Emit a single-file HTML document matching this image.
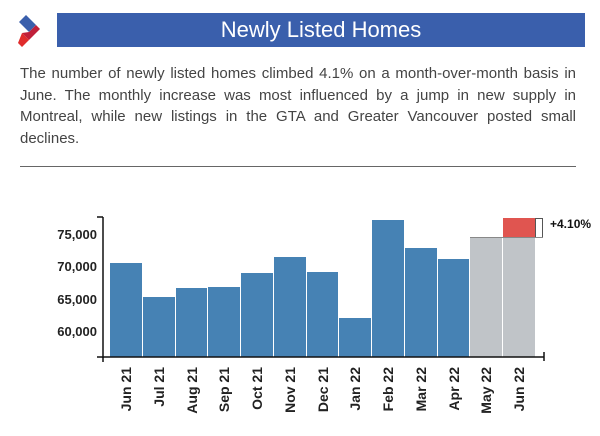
<!DOCTYPE html>
<html><head><style>
body{margin:0;width:600px;height:436px;background:#fff;overflow:hidden;position:relative;font-family:"Liberation Sans",sans-serif}
.bar{position:absolute;left:57px;top:13px;width:528px;height:34px;background:#3a5fac;color:#fff;font-size:22px;text-align:center;line-height:34px}
.p{position:absolute;left:20px;top:63px;width:556px;font-size:15px;line-height:21.5px;color:#444}
.p div{text-align:justify;text-align-last:justify;white-space:nowrap}
.p div.l{text-align-last:left}
.hr{position:absolute;left:20px;top:166px;width:556px;height:1px;background:#666}
</style></head><body>
<svg style="position:absolute;left:0;top:0" width="60" height="60">
<polygon points="26,15 36,25 29,32 19,22" fill="#3a5fac"/>
<polygon points="36,25 40,29 29,40 22,33 29,32" fill="#c0203a"/>
<polygon points="29,40 22,47 18,43 22,33" fill="#e02c2c"/>
</svg>
<div class="bar">Newly Listed Homes</div>
<div class="p"><div>The number of newly listed homes climbed 4.1% on a month-over-month basis in</div><div>June. The monthly increase was most influenced by a jump in new supply in</div><div>Montreal, while new listings in the GTA and Greater Vancouver posted small</div><div class="l">declines.</div></div>
<div class="hr"></div>
<svg style="position:absolute;left:0;top:0" width="600" height="436" font-family="Liberation Sans, sans-serif">
<g fill="#4682b4">
<rect x="110" y="263" width="32" height="94"/>
<rect x="143" y="297" width="32" height="60"/>
<rect x="176" y="288" width="31" height="69"/>
<rect x="208" y="287" width="32" height="70"/>
<rect x="241" y="273" width="32" height="84"/>
<rect x="274" y="257" width="32" height="100"/>
<rect x="307" y="272" width="31" height="85"/>
<rect x="339" y="318" width="32" height="39"/>
<rect x="372" y="220" width="32" height="137"/>
<rect x="405" y="248" width="32" height="109"/>
<rect x="438" y="259" width="31" height="98"/>
</g>
<g fill="#c0c4c8">
<rect x="470" y="237" width="32" height="120"/>
<rect x="503" y="237" width="32" height="120"/>
</g>
<rect x="503" y="218" width="32" height="19" fill="#e05550"/>
<rect x="535.5" y="218.5" width="7" height="19" fill="none" stroke="#555" stroke-width="1"/>
<line x1="470" y1="237.5" x2="543" y2="237.5" stroke="#888"/>
<text x="550" y="228" font-size="12" font-weight="bold" fill="#111">+4.10%</text>
<g stroke="#111" stroke-width="1.5">
<line x1="103" y1="217" x2="103" y2="358"/>
<line x1="97" y1="357" x2="544" y2="357"/>
<line x1="97" y1="217" x2="103" y2="217"/>
<line x1="544" y1="352" x2="544" y2="361"/>
<line x1="103" y1="357" x2="103" y2="362"/>
</g>
<g font-size="13" font-weight="bold" fill="#222" text-anchor="end">
<text x="97" y="239">75,000</text>
<text x="97" y="271">70,000</text>
<text x="97" y="304">65,000</text>
<text x="97" y="336">60,000</text>
</g>
<g font-size="14" font-weight="bold" fill="#222" text-anchor="end">
<text transform="translate(131,367) rotate(-90)">Jun 21</text>
<text transform="translate(164,367) rotate(-90)">Jul 21</text>
<text transform="translate(197,367) rotate(-90)">Aug 21</text>
<text transform="translate(229,367) rotate(-90)">Sep 21</text>
<text transform="translate(262,367) rotate(-90)">Oct 21</text>
<text transform="translate(295,367) rotate(-90)">Nov 21</text>
<text transform="translate(328,367) rotate(-90)">Dec 21</text>
<text transform="translate(360,367) rotate(-90)">Jan 22</text>
<text transform="translate(393,367) rotate(-90)">Feb 22</text>
<text transform="translate(426,367) rotate(-90)">Mar 22</text>
<text transform="translate(459,367) rotate(-90)">Apr 22</text>
<text transform="translate(491,367) rotate(-90)">May 22</text>
<text transform="translate(524,367) rotate(-90)">Jun 22</text>
</g>
</svg>
</body></html>
